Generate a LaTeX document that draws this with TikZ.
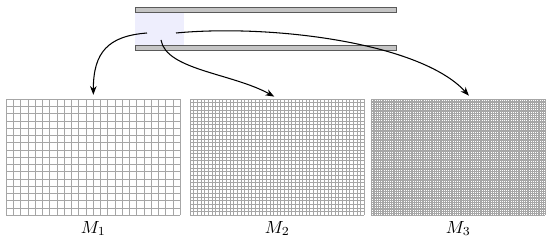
\documentclass[tikz,border=0pt]{standalone}
\usepackage{tikz}
\usetikzlibrary{positioning, arrows.meta}
\definecolor{plateGrey}{HTML}{C4C4C4}
\definecolor{plateEdge}{HTML}{5A5A5A}
\definecolor{cellBlue}{HTML}{EEEEFD}
\definecolor{meshGrey}{HTML}{A6A6A6}

% mesh lines inside a mesh node: #1 node name, #2 number of columns
\newcommand{\drawmesh}[2]{%
  \begin{scope}[shift={(#1.south west)}]
    \pgfmathsetmacro{\meshstep}{174/#2}
    \pgfmathtruncatemacro{\meshrows}{#2*2/3}
    \foreach \i in {0,...,#2}
      \draw[meshline] (\i*\meshstep,0) -- ++(0,116);
    \foreach \j in {0,...,\meshrows}
      \draw[meshline] (0,\j*\meshstep) -- ++(174,0);
  \end{scope}}

\begin{document}
\begin{tikzpicture}[x=0.02cm, y=0.02cm,
  plate/.style={fill=plateGrey, draw=plateEdge, line width=0.35pt,
                minimum width=5.22cm, minimum height=0.1cm,
                inner sep=0pt, anchor=south west},
  mesh/.style={minimum width=3.48cm, minimum height=2.32cm,
               inner sep=0pt, anchor=south west},
  meshline/.style={meshGrey, line width=0.25pt},
  link/.style={-{Stealth[length=5pt]}, semithick, shorten >=2pt}]

  \useasboundingbox (0,0) rectangle (550,240);

  \node[fill=cellBlue, minimum width=0.98cm, minimum height=0.66cm,
        inner sep=0pt, anchor=south west] (cell) at (135,194) {};
  \node[plate] (top) at (135,227) {};
  \node[plate] (bot) at (135,189) {};

  \node[mesh] (g1) at (6,25) {};
  \node[mesh] (g2) at (190,25) {};
  \node[mesh] (g3) at (371,25) {};
  \drawmesh{g1}{24}
  \drawmesh{g2}{48}
  \drawmesh{g3}{96}

  \node[below=0pt of g1] (m1) {$M_1$};
  \node[below=0pt of g2] (m2) {$M_2$};
  \node[below=0pt of g3] (m3) {$M_3$};

  \coordinate (s1) at (147,207);
  \coordinate (s2) at (161,200);
  \coordinate (s3) at (176,207);

  \draw[link] (s1) .. controls +(-39,-3) and +(0,46) .. (g1.north);
  \draw[link] (s2) .. controls +(5,-30) and +(-45,25) .. (g2.north);
  \draw[link] (s3) .. controls +(94,9) and +(-51,56) .. ([xshift=0.26cm]g3.north);
\end{tikzpicture}
\end{document}
